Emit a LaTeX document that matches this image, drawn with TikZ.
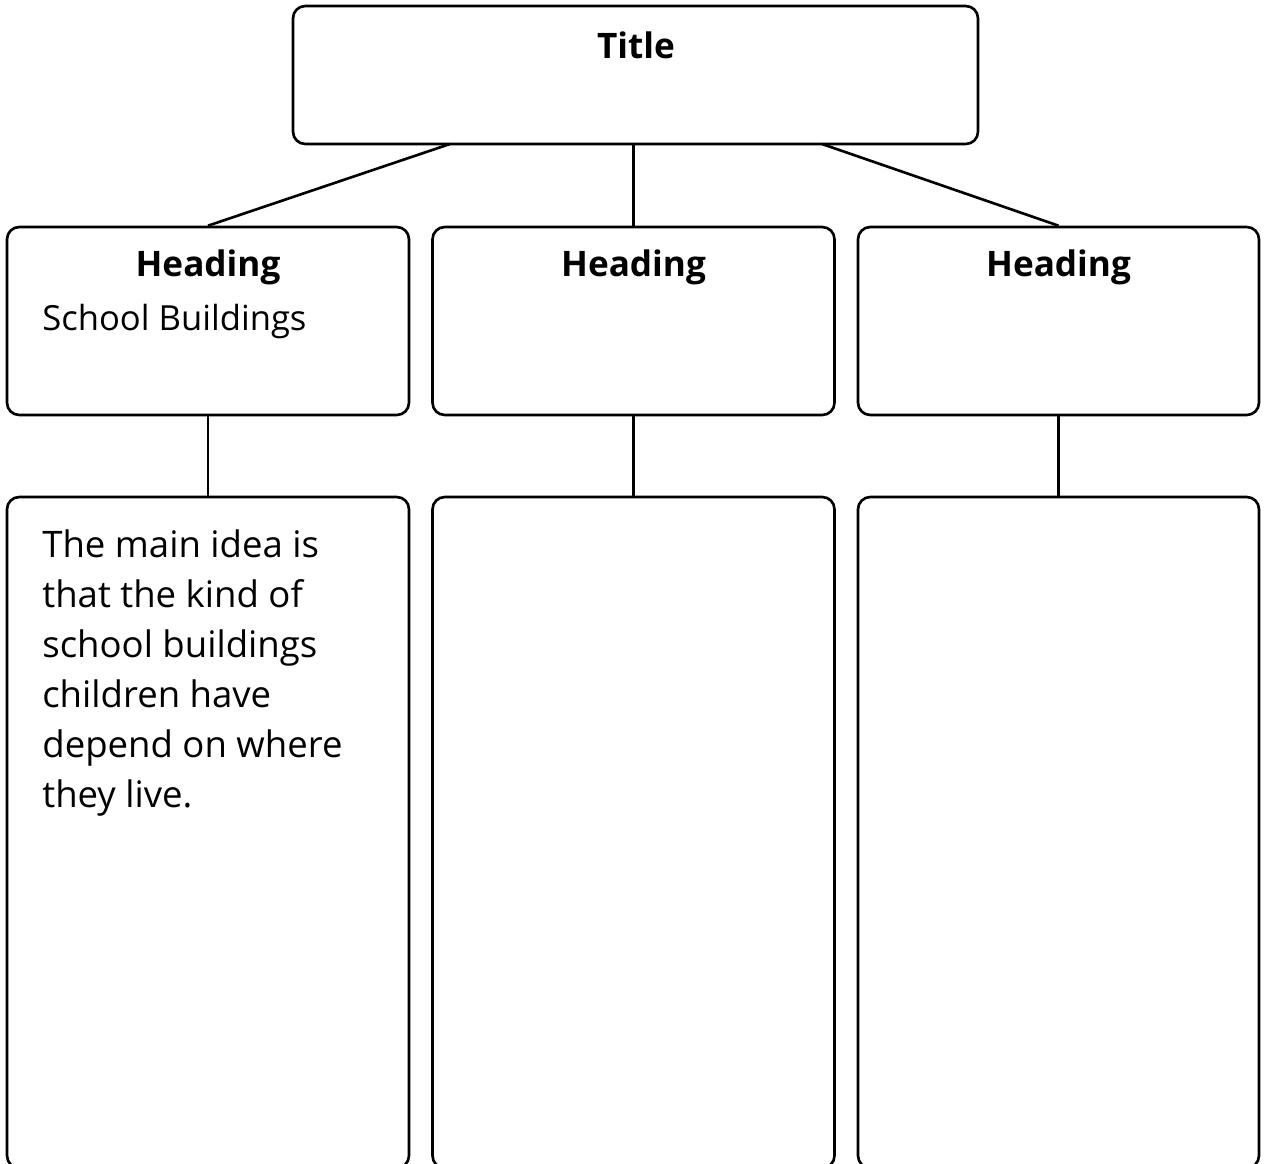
\documentclass[tikz,border=0pt]{standalone}
\usepackage{fontspec}
\setmainfont{Open Sans}
\usepackage{tikz}

\begin{document}
\begin{tikzpicture}[x=0.02cm,y=-0.02cm,
    box/.style={draw,line width=1.5pt,rounded corners=7pt,inner sep=0pt},
    headtext/.style={font=\fontsize{20}{24}\selectfont\bfseries},
    bodytext/.style={font=\fontsize{20.8}{28.4}\selectfont,align=left,inner sep=0pt}]
    \useasboundingbox (0,0) rectangle (1264,1163);
    \clip (0,0) rectangle (1264,1163);
    \begin{scope}[line width=1.5pt]
      \node[box,minimum width=685*0.02cm,minimum height=138*0.02cm] (title) at (635.5,75) {};
      \node[box,minimum width=402*0.02cm,minimum height=188*0.02cm] (head-a) at (208,321) {};
      \node[box,minimum width=402*0.02cm,minimum height=188*0.02cm] (head-b) at (633.5,321) {};
      \node[box,minimum width=401*0.02cm,minimum height=188*0.02cm] (head-c) at (1058.5,321) {};
      \node[box,minimum width=402*0.02cm,minimum height=671*0.02cm] (idea-a) at (208,832.5) {};
      \node[box,minimum width=402*0.02cm,minimum height=671*0.02cm] (idea-b) at (633.5,832.5) {};
      \node[box,minimum width=401*0.02cm,minimum height=671*0.02cm] (idea-c) at (1058.5,832.5) {};
    \end{scope}
    \node[headtext] (title-txt) at (636,45) {Title};
    \node[headtext] (head-a-txt) at (208,267) {Heading};
    \node[headtext] (head-b-txt) at (633.5,267) {Heading};
    \node[headtext] (head-c-txt) at (1058.5,267) {Heading};
    \node[bodytext,font=\fontsize{19.7}{24}\selectfont,anchor=base west] (topic) at (42,330) {School Buildings};
    \node[bodytext,anchor=base west] (idea) at (42,807) {The main idea is\\that the kind of\\school buildings\\children have\\depend on where\\they live.};

    \coordinate (title-l) at (450,144);
    \coordinate (title-r) at (822,144);
    \draw[line width=1.5pt] (title-l) -- (head-a.north);
    \draw[line width=1.5pt] (head-b.north |- title.south) -- (head-b.north);
    \draw[line width=1.5pt] (title-r) -- (head-c.north);

    \draw[line width=1.5pt] (head-a.south) -- (idea-a.north);
    \draw[line width=1.5pt] (head-b.south) -- (idea-b.north);
    \draw[line width=1.5pt] (head-c.south) -- (idea-c.north);
  \end{tikzpicture}
\end{document}
